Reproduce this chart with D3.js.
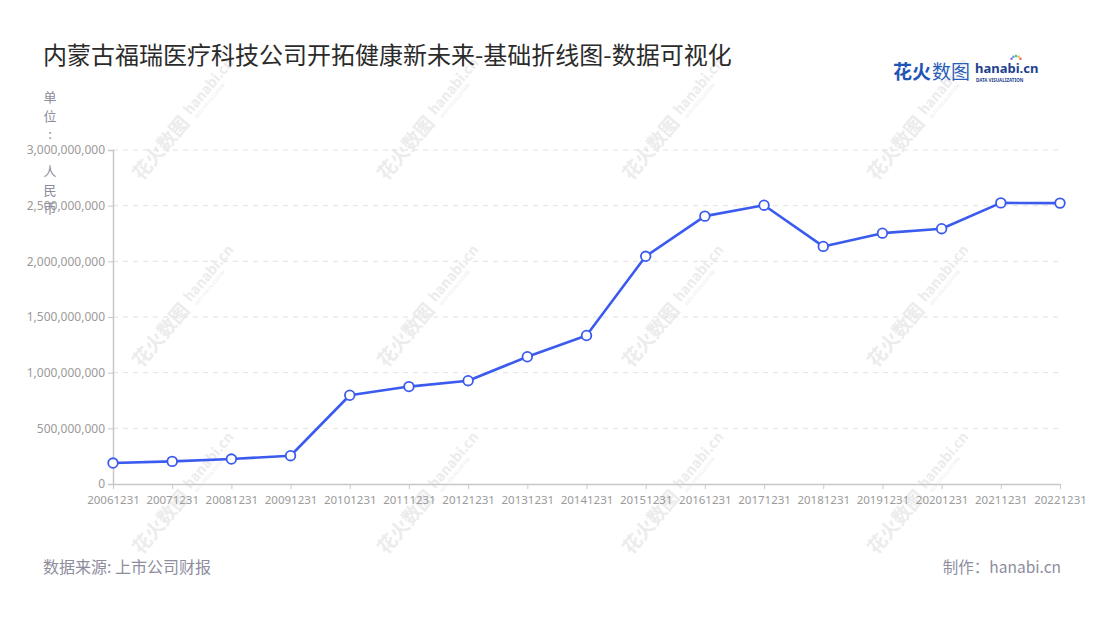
<!DOCTYPE html>
<html>
<head>
<meta charset="utf-8">
<script src="https://cdn.jsdelivr.net/npm/d3@7"></script>
<style>
  body { margin: 0; background: #fff; }
  text { font-family: "Noto Sans CJK SC", "Noto Sans", sans-serif; }
</style>
</head>
<body>
<div id="container"></div>
<script>
// revenue at each year end (yuan)
var dates = ['20061231', '20071231', '20081231', '20091231', '20101231', '20111231',
  '20121231', '20131231', '20141231', '20151231', '20161231', '20171231',
  '20181231', '20191231', '20201231', '20211231', '20221231']
var revenue = [188e6, 203e6, 224e6, 254e6, 797e6, 875e6, 928e6, 1143e6, 1334e6,
  2045e6, 2406e6, 2504e6, 2134e6, 2253e6, 2293e6, 2525e6, 2523e6]
var yTicks = [0, 5e8, 1e9, 1.5e9, 2e9, 2.5e9, 3e9]

var title = '内蒙古福瑞医疗科技公司开拓健康新未来-基础折线图-数据可视化'
var unitLabel = '单位: 人民币'
var source = '数据来源: 上市公司财报'
var credit = '制作：hanabi.cn'

var width = 1100
var height = 620
var lineColour = '#3b5bef'

var svg = d3.select('#container').append('svg')
  .attr('width', width)
  .attr('height', height)

/* faint watermark tiles behind everything */
var marks = svg.append('g').attr('class', 'watermarks')
for (var i = 0; i < 4; i++) {
  for (var j = 0; j < 3; j++) {
    var wm = marks.append('g')
      .attr('transform', 'translate(' + (187 + 245 * i) + ',' + (118 + 187 * j) + ') rotate(-50)')
      .style('fill', '#ececec')
    wm.append('text').attr('x', -78).attr('y', 6)
      .style('font-size', '19px').style('font-weight', 700).text('花火数图')
    wm.append('text').attr('x', 4).attr('y', 1)
      .style('font-size', '14px').style('font-weight', 700).text('hanabi.cn')
    wm.append('text').attr('x', 6).attr('y', 8)
      .style('font-size', '4.5px').text('DATA VISUALIZATION')
  }
}

var x = d3.scalePoint()
  .domain(dates)
  .range([113, 1060])

var y = d3.scaleLinear()
  .domain([0, 3e9])
  .range([484, 150])

// dashed grid
svg.append('g')
  .selectAll('line')
  .data(yTicks.slice(1))
  .enter().append('line')
  .attr('x1', 113).attr('x2', 1060)
  .attr('y1', function (d) { return y(d) })
  .attr('y2', function (d) { return y(d) })
  .style('stroke', '#e0e0e0')
  .style('stroke-dasharray', '5,5')

var yAxis = svg.append('g')
  .attr('transform', 'translate(113,0)')
  .call(d3.axisLeft(y).tickValues(yTicks).tickSize(5).tickPadding(3)
    .tickFormat(d3.format(',')))
yAxis.select('.domain').style('stroke', '#c8c8c8').style('stroke-width', 1.5)
yAxis.selectAll('.tick line').style('stroke', '#c8c8c8')
yAxis.selectAll('.tick text')
  .style('fill', '#9a9a9a').style('font-size', '12px')
  .style('font-family', '"Noto Sans", sans-serif')

var xAxis = svg.append('g')
  .attr('transform', 'translate(0,484)')
  .call(d3.axisBottom(x).tickSize(5).tickPadding(7).tickSizeOuter(0))
xAxis.select('.domain').style('stroke', '#c8c8c8').style('stroke-width', 1.5)
xAxis.selectAll('.tick line').style('stroke', '#c8c8c8')
xAxis.selectAll('.tick text')
  .style('fill', '#9a9a9a').style('font-size', '11.5px')
  .style('font-family', '"Noto Sans", sans-serif')

// unit title, one character per line (it runs over the 2.5 bn label, as in the source)
svg.append('g')
  .selectAll('text')
  .data(unitLabel.split(''))
  .enter().append('text')
  .attr('x', 50)
  .attr('y', function (d, i) { return 102 + i * 18.5 })
  .attr('text-anchor', 'middle')
  .style('fill', '#8d8d9e')
  .style('font-size', '13px')
  .text(function (d) { return d })

var line = d3.line()
  .x(function (d, i) { return x(dates[i]) })
  .y(function (d) { return y(d) })

svg.append('path')
  .datum(revenue)
  .attr('d', line)
  .style('fill', 'none')
  .style('stroke', lineColour)
  .style('stroke-width', 2.6)
  .style('stroke-linejoin', 'round')

svg.append('g')
  .selectAll('circle')
  .data(revenue)
  .enter().append('circle')
  .attr('cx', function (d, i) { return x(dates[i]) })
  .attr('cy', function (d) { return y(d) })
  .attr('r', 4.8)
  .style('fill', '#fff')
  .style('stroke', lineColour)
  .style('stroke-width', 1.8)

svg.append('text')
  .attr('x', 43).attr('y', 64)
  .style('font-size', '24px')
  .style('fill', '#2b2b2b')
  .text(title)

svg.append('text')
  .attr('x', 43).attr('y', 573)
  .style('font-size', '16px')
  .style('fill', '#8d8d9e')
  .text(source)

svg.append('text')
  .attr('x', 1061).attr('y', 573)
  .attr('text-anchor', 'end')
  .style('font-size', '15.5px')
  .style('fill', '#8d8d9e')
  .text(credit)

/* logo top right */
var logo = svg.append('g').attr('transform', 'translate(893,79)')
logo.append('text')
  .style('font-size', '19px').style('font-weight', 700)
  .style('fill', '#1f56b5').text('花火')
logo.append('text').attr('x', 39)
  .style('font-size', '19px')
  .style('fill', '#2a5db8').text('数图')
logo.append('text').attr('x', 82).attr('y', -6)
  .style('font-size', '13px').style('font-weight', 700)
  .style('font-family', '"Noto Sans", sans-serif')
  .style('fill', '#1e3f8f').text('hanabi.cn')
logo.append('text').attr('x', 83).attr('y', 3)
  .style('font-size', '4.5px').style('font-weight', 700)
  .style('font-family', '"Noto Sans", sans-serif')
  .style('fill', '#1e3f8f').text('DATA VISUALIZATION')
var sparks = ['#f25c5c', '#f7b733', '#4cc26b', '#38a8e8', '#9b59d6']
logo.append('g').selectAll('circle')
  .data(sparks)
  .enter().append('circle')
  .attr('cx', function (d, i) { return 123 + Math.cos(Math.PI * (0.15 + i * 0.175)) * 5 })
  .attr('cy', function (d, i) { return -18 - Math.sin(Math.PI * (0.15 + i * 0.175)) * 5 })
  .attr('r', 1.2)
  .style('fill', function (d) { return d })
</script>
</body>
</html>
